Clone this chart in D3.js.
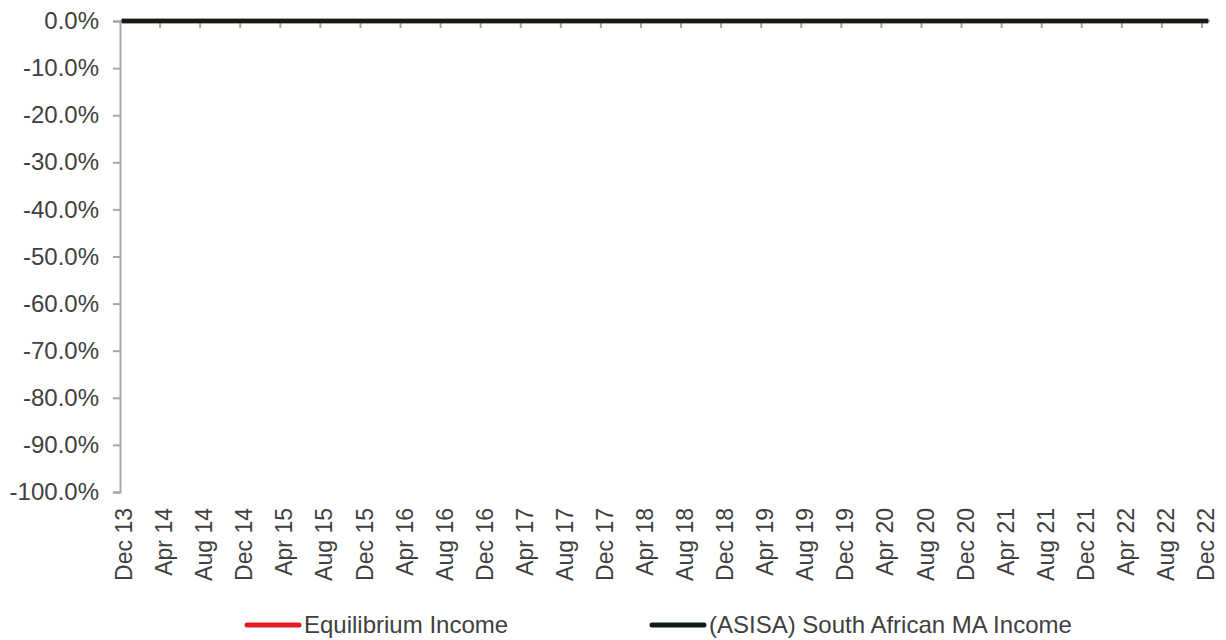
<!DOCTYPE html>
<html>
<head>
<meta charset="utf-8">
<script src="https://cdn.jsdelivr.net/npm/d3@7"></script>
<style>
  html, body { margin: 0; padding: 0; background: #ffffff; }
  svg { display: block; }
  text { font-family: "Liberation Sans", Arial, sans-serif; fill: #404040; }
</style>
</head>
<body>
<svg id="chart" width="1226" height="640"></svg>
<script>
// Drawdown, monthly, Dec 2013 – Dec 2022
const tickLabels = [
  "Dec 13","Apr 14","Aug 14","Dec 14","Apr 15","Aug 15","Dec 15","Apr 16","Aug 16","Dec 16",
  "Apr 17","Aug 17","Dec 17","Apr 18","Aug 18","Dec 18","Apr 19","Aug 19","Dec 19","Apr 20",
  "Aug 20","Dec 20","Apr 21","Aug 21","Dec 21","Apr 22","Aug 22","Dec 22"
];

// one value per month-end, Dec 13 first
const equilibriumIncome = [
  0,
  0,0,0,0,0,0,0,0,0,0,0,0,
  0,0,0,0,0,0,0,0,0,0,0,0,
  0,0,0,0,0,0,0,0,0,0,0,0,
  0,0,0,0,0,0,0,0,0,0,0,0,
  0,0,0,0,0,0,0,0,0,0,0,0,
  0,0,0,0,0,0,0,0,0,0,0,0,
  0,0,0,0,0,0,0,0,0,0,0,0,
  0,0,0,0,0,0,0,0,0,0,0,0,
  0,0,0,0,0,0,0,0,0,0,0,0
];
const asisaMaIncome = [
  0,
  0,0,0,0,0,0,0,0,0,0,0,0,
  0,0,0,0,0,0,0,0,0,0,0,0,
  0,0,0,0,0,0,0,0,0,0,0,0,
  0,0,0,0,0,0,0,0,0,0,0,0,
  0,0,0,0,0,0,0,0,0,0,0,0,
  0,0,0,0,0,0,0,0,0,0,0,0,
  0,0,0,0,0,0,0,0,0,0,0,0,
  0,0,0,0,0,0,0,0,0,0,0,0,
  0,0,0,0,0,0,0,0,0,0,0,0
];

const yTicks = [0, -0.1, -0.2, -0.3, -0.4, -0.5, -0.6, -0.7, -0.8, -0.9, -1.0];

const series = [
  { name: "Equilibrium Income", values: equilibriumIncome, color: "#e31b23" },
  { name: "(ASISA) South African MA Income", values: asisaMaIncome, color: "#0e1d18" }
];

const svg = d3.select("#chart");
const axisColor = "#a6a6a6";
const fontSize = 24;
const rotatedFontSize = 23;

const x = d3.scaleLinear().domain([0, equilibriumIncome.length - 1]).range([124, 1206]);
const y = d3.scaleLinear().domain([-1, 0]).range([492, 21]);
const axisLeft = 120;

// percent labels with a plain hyphen for negatives
const pct = d => (d * 100).toFixed(1).replace("\u2212", "-") + "%";

// y axis
const yAxis = d3.axisLeft(y)
  .tickValues(yTicks)
  .tickSize(7)
  .tickPadding(14)
  .tickFormat(pct);
const gy = svg.append("g").attr("transform", `translate(${axisLeft},0)`).call(yAxis);
gy.select(".domain").attr("stroke", axisColor).attr("stroke-width", 2);
gy.selectAll(".tick line").attr("stroke", axisColor).attr("stroke-width", 2);
gy.selectAll(".tick text")
  .style("font-size", fontSize + "px")
  .attr("fill", "#404040")
  .style("font-family", "'Liberation Sans', Arial, sans-serif");

// x axis along the zero line
const gx = svg.append("g");
gx.append("line")
  .attr("x1", axisLeft).attr("x2", x(x.domain()[1]) + 4)
  .attr("y1", y(0)).attr("y2", y(0))
  .attr("stroke", axisColor).attr("stroke-width", 2);
gx.selectAll("line.xtick")
  .data(tickLabels.slice(1))
  .join("line")
  .attr("class", "xtick")
  .attr("x1", (d, i) => x((i + 1) * 4) - 4)
  .attr("x2", (d, i) => x((i + 1) * 4) - 4)
  .attr("y1", y(0)).attr("y2", y(0) + 7)
  .attr("stroke", axisColor).attr("stroke-width", 2);

// rotated month labels under the plot
svg.append("g").selectAll("text")
  .data(tickLabels)
  .join("text")
  .attr("transform", (d, i) => `translate(${x(i * 4)},${y(-1) + 16}) rotate(-90)`)
  .attr("text-anchor", "end")
  .attr("dy", "0.35em")
  .style("font-size", rotatedFontSize + "px")
  .text(d => d);

// series lines
const line = d3.line()
  .x((d, i) => x(i))
  .y(d => y(d));
svg.append("g").selectAll("path")
  .data(series)
  .join("path")
  .attr("d", s => line(s.values))
  .attr("fill", "none")
  .attr("stroke", s => s.color)
  .attr("stroke-width", 4.5)
  .attr("stroke-linecap", "square")
  .attr("stroke-linejoin", "round");

// legend
const legendItems = [
  { s: series[0], x0: 247 },
  { s: series[1], x0: 652 }
];
const lg = svg.append("g").selectAll("g")
  .data(legendItems)
  .join("g")
  .attr("transform", d => `translate(${d.x0},625)`);
lg.append("line")
  .attr("x1", 0).attr("x2", 52)
  .attr("y1", 0).attr("y2", 0)
  .attr("stroke", d => d.s.color)
  .attr("stroke-width", 5)
  .attr("stroke-linecap", "round");
lg.append("text")
  .attr("x", 57)
  .attr("y", 0)
  .attr("dy", "0.35em")
  .style("font-size", fontSize + "px")
  .text(d => d.s.name);
</script>
</body>
</html>
